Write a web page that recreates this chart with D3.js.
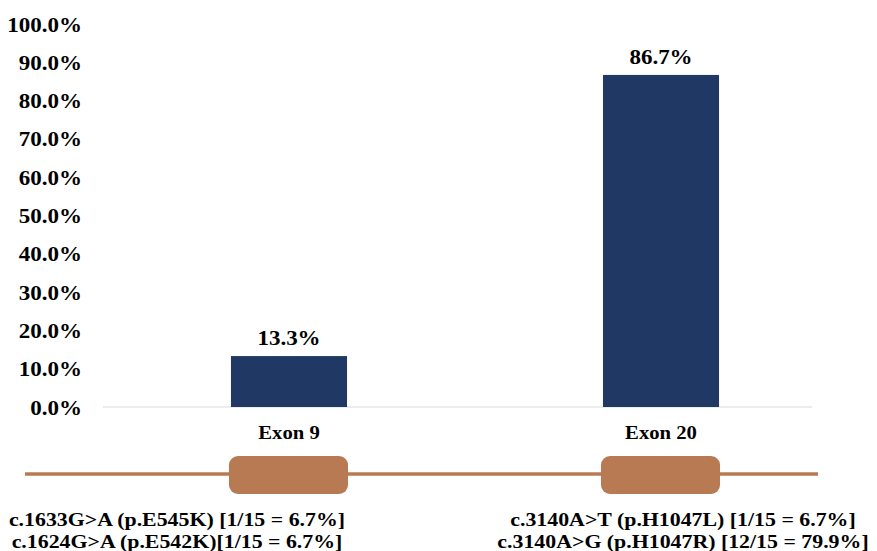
<!DOCTYPE html>
<html><head><meta charset="utf-8">
<script src="https://cdn.jsdelivr.net/npm/d3@7"></script>
<style>body{margin:0;background:#fff;} svg{display:block;} text{font-family:"Liberation Serif","Times New Roman",serif;font-weight:bold;fill:#000;}</style>
</head><body>
<svg id="chart" width="877" height="551"></svg>
<script>
const categories = ["Exon 9", "Exon 20"];
const values = [13.3, 86.7];
const valueLabels = ["13.3%", "86.7%"];
const yTicks = [0,10,20,30,40,50,60,70,80,90,100];
const mutationLines = [
  ["c.1633G>A (p.E545K) [1/15 = 6.7%]", "c.1624G>A (p.E542K)[1/15 = 6.7%]"],
  ["c.3140A>T (p.H1047L) [1/15 = 6.7%]", "c.3140A>G (p.H1047R) [12/15 = 79.9%]"]
];

const SX = 1.15; // horizontal stretch of the original's lettering
const svg = d3.select("#chart");
const y = d3.scaleLinear().domain([0,100]).range([407,24]);
const x = d3.scaleBand().domain(categories).range([103,847]).paddingInner(0.688).paddingOuter(0.344);

function stretched(sel, px, py) {
  sel.attr("x", null).attr("y", null)
     .attr("transform", (d,i) => `translate(${px(d,i)},${py(d,i)}) scale(${SX},1)`);
}

// y axis labels
const yAxis = d3.axisLeft(y).tickValues(yTicks).tickFormat(d => d.toFixed(1) + "%").tickSize(0).tickPadding(0);
const gy = svg.append("g").attr("transform","translate(82,0)").call(yAxis);
gy.select(".domain").remove();
gy.attr("font-family", null).attr("font-size", null);
gy.selectAll("text").style("font-size","20px").attr("fill","#000").attr("dy","0.35em")
  .attr("x", 0).attr("transform", `scale(${SX},1)`);

// baseline
svg.append("line").attr("x1",103).attr("x2",812).attr("y1",y(0)).attr("y2",y(0)).attr("stroke","#d9d9d9").attr("stroke-width",1.2);

// bars
svg.selectAll("rect.bar").data(categories).join("rect").attr("class","bar")
  .attr("x", d => x(d)).attr("width", x.bandwidth())
  .attr("y", (d,i) => y(values[i])).attr("height", (d,i) => y(0) - y(values[i]))
  .attr("fill","#1f3864");

// value labels
svg.selectAll("text.val").data(categories).join("text").attr("class","val")
  .attr("text-anchor","middle").style("font-size","20px").text((d,i) => valueLabels[i])
  .call(stretched, d => x(d) + x.bandwidth()/2, (d,i) => y(values[i]) - 11);

// category labels
svg.selectAll("text.cat").data(categories).join("text").attr("class","cat")
  .attr("text-anchor","middle").style("font-size","18px").text(d => d)
  .call(stretched, d => x(d) + x.bandwidth()/2, () => 439);

// gene line
svg.append("line").attr("x1",25).attr("x2",818).attr("y1",474).attr("y2",474).attr("stroke","#b87a53").attr("stroke-width",3.5);
svg.selectAll("rect.exon").data(categories).join("rect").attr("class","exon")
  .attr("x", d => x(d) - 2).attr("width", x.bandwidth() + 3)
  .attr("y", 456).attr("height", 38).attr("rx", 9).attr("ry", 9)
  .attr("fill","#b87a53");

// mutation text
const centers = [177, 683];
categories.forEach((c,i) => {
  svg.selectAll(null).data(mutationLines[i]).join("text")
    .attr("text-anchor","middle").style("font-size","19px").text(t => t)
    .call(stretched, () => centers[i], (t,j) => 526 + j*22);
});
</script>
</body></html>
